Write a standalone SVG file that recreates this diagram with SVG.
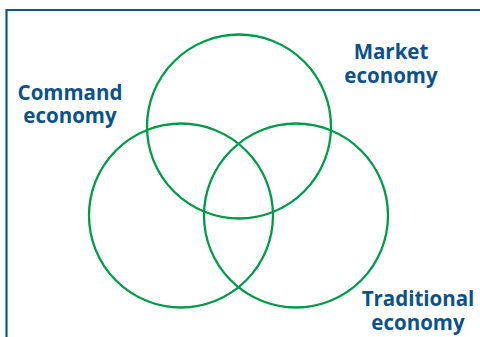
<svg xmlns="http://www.w3.org/2000/svg" width="480" height="337" viewBox="0 0 480 337">
  <style>
    .frame { fill: none; stroke: #0f568d; stroke-width: 2.2; }
    .set { fill: none; stroke: #00994a; stroke-width: 2.3; }
    .label { font-family: "Open Sans", "Noto Sans", sans-serif; font-weight: bold; font-size: 20.5px; fill: #0d5189; text-anchor: middle; }
  </style>
  <rect width="480" height="337" fill="#ffffff"/>
  <path class="frame" d="M6.5,337 V10 H480"/>
  <g id="market">
    <circle class="set" cx="239" cy="126.5" r="92"/>
    <text class="label" x="391" y="59">Market</text>
    <text class="label" x="391" y="82.5">economy</text>
  </g>
  <g id="command">
    <circle class="set" cx="181" cy="215.5" r="92"/>
    <text class="label" x="70" y="99.5">Command</text>
    <text class="label" x="70" y="123">economy</text>
  </g>
  <g id="traditional">
    <circle class="set" cx="296" cy="215.5" r="92"/>
    <text class="label" x="418" y="306">Traditional</text>
    <text class="label" x="418" y="329.5">economy</text>
  </g>
  <g id="connectors"/>
</svg>
